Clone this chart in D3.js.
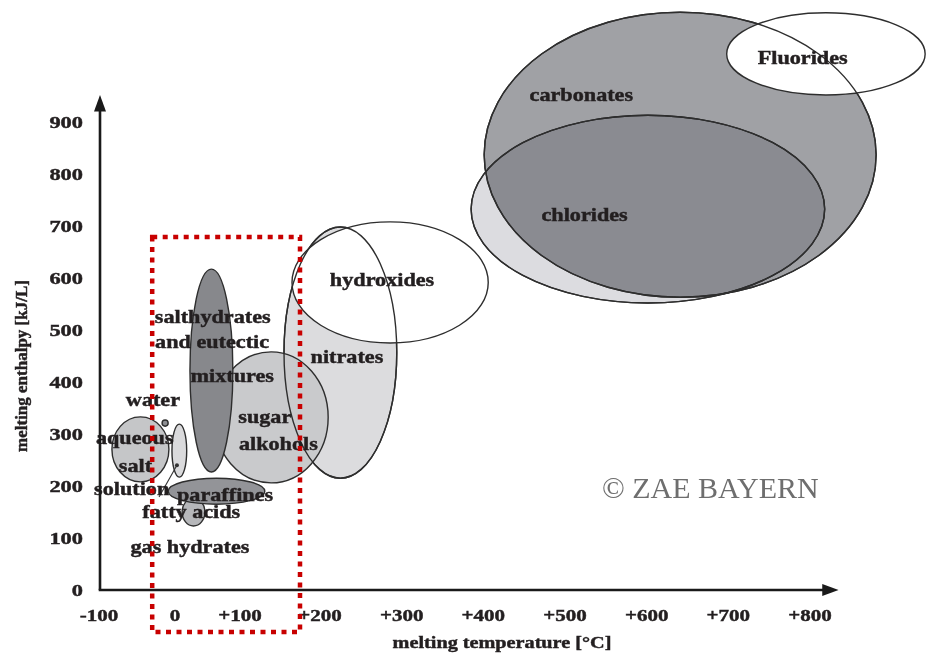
<!DOCTYPE html>
<html>
<head>
<meta charset="utf-8">
<script src="https://cdn.jsdelivr.net/npm/d3@7"></script>
<style>
  html, body { margin: 0; padding: 0; background: #fff; }
  svg { display: block; }
  text { font-family: "Liberation Serif", "Times New Roman", serif; }
  text.bold { font-weight: bold; fill: #231f20; stroke: #231f20; stroke-width: 0.45px; }
</style>
</head>
<body>
<svg id="chart" width="930" height="654"></svg>
<script>
// ---------------- DATA ----------------
const xTicks = [-100, 0, 100, 200, 300, 400, 500, 600, 700, 800];
const xTickLabels = ["-100", "0", "+100", "+200", "+300", "+400", "+500", "+600", "+700", "+800"];
const yTicks = [0, 100, 200, 300, 400, 500, 600, 700, 800, 900];
const yTickLabels = ["0", "100", "200", "300", "400", "500", "600", "700", "800", "900"];

// material classes: extent in melting temperature [°C] and melting enthalpy [kJ/L]
const regionNames = ["carbonates", "Fluorides", "chlorides", "nitrates", "hydroxides",
  "sugar alkohols", "salthydrates", "aqueous salt solution", "small region", "water",
  "fatty acids", "paraffines"];
const tempMin = [401, 698, 385, 155, 165, 60, 23, -83, -4, -17, 11, -9];
const tempMax = [881, 941, 818, 294, 406, 210, 89, -8, 18, -9, 46, 131];
const enthMin = [563, 952, 552, 215, 475, 206, 227, 208, 217, 315, 123, 165];
const enthMax = [1111, 1110, 913, 698, 708, 458, 617, 333, 319, 327, 177, 215];

// labels (text anchored at temperature / enthalpy)
const labelTexts = ["carbonates", "Fluorides", "chlorides", "hydroxides", "nitrates",
  "salthydrates", "and eutectic", "mixtures", "water", "sugar", "alkohols",
  "aqueous", "salt", "solution", "paraffines", "fatty acids", "gas hydrates"];
const labelTemp = [520, 791, 524, 276, 233, 58, 57, 88, -29, 131, 148, -53, -52, -57, 77, 25, 23];
const labelEnth = [940, 1012, 710, 585, 437, 513, 465, 400, 354, 321, 269, 281, 227, 183, 171, 138, 71];

// leader line (temperature, enthalpy)
const leaderTemp = [3, -21];
const leaderEnth = [240, 179];

// highlighted range (dotted frame)
const frameTemp = [-30, 175];
const frameEnth = [-81, 679];

const watermark = "© ZAE BAYERN";
const watermarkTemp = 678, watermarkEnth = 177;

// ---------------- STYLE ----------------
const fills = {
  "carbonates": "#a0a1a5",
  "Fluorides": "#ffffff",
  "chlorides": "#dcdce0",
  "nitrates": "#dcdcde",
  "hydroxides": "#ffffff",
  "sugar alkohols": "#c9cacc",
  "salthydrates": "#87888c",
  "aqueous salt solution": "#c5c6c8",
  "small region": "#dadadc",
  "water": "#8e8f93",
  "fatty acids": "#b6b7ba",
  "paraffines": "#939498"
};
const blend = { "chlorides": "multiply" };
const restroke = ["carbonates", "chlorides", "nitrates"];

// ---------------- SCALES ----------------
const x = d3.scaleLinear().domain([-100, 0, 100, 200, 800]).range([99, 175, 240, 320, 810]);
const y = d3.scaleLinear().domain([0, 900]).range([590, 122]);

const svg = d3.select("#chart");
svg.append("rect").attr("width", 930).attr("height", 654).attr("fill", "#fff");

const regions = regionNames.map((n, i) => ({
  name: n,
  cx: (x(tempMin[i]) + x(tempMax[i])) / 2,
  cy: (y(enthMin[i]) + y(enthMax[i])) / 2,
  rx: (x(tempMax[i]) - x(tempMin[i])) / 2,
  ry: (y(enthMin[i]) - y(enthMax[i])) / 2
}));

const gReg = svg.append("g");
gReg.selectAll("ellipse").data(regions).join("ellipse")
  .attr("cx", d => d.cx).attr("cy", d => d.cy)
  .attr("rx", d => d.rx).attr("ry", d => d.ry)
  .attr("fill", d => fills[d.name])
  .style("mix-blend-mode", d => blend[d.name] || "normal")
  .attr("stroke", "#2e2e2e")
  .attr("stroke-width", 1.4);

svg.append("g").selectAll("ellipse")
  .data(regions.filter(d => restroke.includes(d.name))).join("ellipse")
  .attr("cx", d => d.cx).attr("cy", d => d.cy)
  .attr("rx", d => d.rx).attr("ry", d => d.ry)
  .attr("fill", "none").attr("stroke", "#2e2e2e").attr("stroke-width", 1.4);

// leader line
svg.append("line")
  .attr("x1", x(leaderTemp[0])).attr("y1", y(leaderEnth[0]))
  .attr("x2", x(leaderTemp[1])).attr("y2", y(leaderEnth[1]))
  .attr("stroke", "#333").attr("stroke-width", 1.1);
svg.append("circle").attr("cx", x(leaderTemp[0])).attr("cy", y(leaderEnth[0]))
  .attr("r", 2).attr("fill", "#333");

// labels
const SX = 1.2;
svg.append("g").selectAll("text")
  .data(labelTexts.map((t, i) => ({ t, px: x(labelTemp[i]), py: y(labelEnth[i]) })))
  .join("text")
  .attr("class", "bold")
  .attr("transform", d => `translate(${d.px},${d.py}) scale(${SX},1)`)
  .attr("text-anchor", "middle")
  .attr("font-size", 18.5)
  .text(d => d.t);

// watermark
svg.append("text")
  .attr("x", x(watermarkTemp)).attr("y", y(watermarkEnth))
  .attr("text-anchor", "middle")
  .attr("font-size", 30)
  .attr("fill", "#6e6e6e")
  .text(watermark);

// axes
const ax = svg.append("g").attr("stroke", "#1a1a1a").attr("fill", "#1a1a1a");
const ox = x(-100) + 1, oy = y(0);
ax.append("line").attr("x1", ox).attr("y1", oy).attr("x2", ox).attr("y2", y(925))
  .attr("stroke-width", 2.6);
ax.append("path")
  .attr("d", `M${ox},${y(952)} L${ox - 6},${y(920)} L${ox + 6},${y(920)} Z`)
  .attr("stroke", "none");
ax.append("line").attr("x1", ox - 1.3).attr("y1", oy).attr("x2", x(820)).attr("y2", oy)
  .attr("stroke-width", 2.6);
ax.append("path")
  .attr("d", `M${x(835)},${oy} L${x(815)},${oy - 6} L${x(815)},${oy + 6} Z`)
  .attr("stroke", "none");

// tick labels
svg.append("g").selectAll("text")
  .data(xTicks.map((v, i) => ({ v, label: xTickLabels[i] })))
  .join("text")
  .attr("class", "bold")
  .attr("transform", d => `translate(${x(d.v)},621) scale(1.2,1)`)
  .attr("text-anchor", "middle")
  .attr("font-size", 17.5)
  .text(d => d.label);

svg.append("g").selectAll("text")
  .data(yTicks.map((v, i) => ({ v, label: yTickLabels[i] })))
  .join("text")
  .attr("class", "bold")
  .attr("transform", d => `translate(83,${y(d.v) + 6}) scale(1.28,1)`)
  .attr("text-anchor", "end")
  .attr("font-size", 17.5)
  .text(d => d.label);

// axis titles
svg.append("text")
  .attr("class", "bold")
  .attr("transform", `translate(502,648) scale(1.19,1)`)
  .attr("text-anchor", "middle")
  .attr("font-size", 17)
  .text("melting temperature [°C]");
svg.append("text")
  .attr("class", "bold")
  .attr("transform", `translate(27,366) rotate(-90)`)
  .attr("text-anchor", "middle")
  .attr("font-size", 17)
  .text("melting enthalpy [kJ/L]");

// dotted frame
svg.append("rect")
  .attr("x", x(frameTemp[0])).attr("y", y(frameEnth[1]))
  .attr("width", x(frameTemp[1]) - x(frameTemp[0]))
  .attr("height", y(frameEnth[0]) - y(frameEnth[1]))
  .attr("fill", "none")
  .attr("stroke", "#c80000")
  .attr("stroke-width", 4.5)
  .attr("stroke-dasharray", "5 5.5");
</script>
</body>
</html>
